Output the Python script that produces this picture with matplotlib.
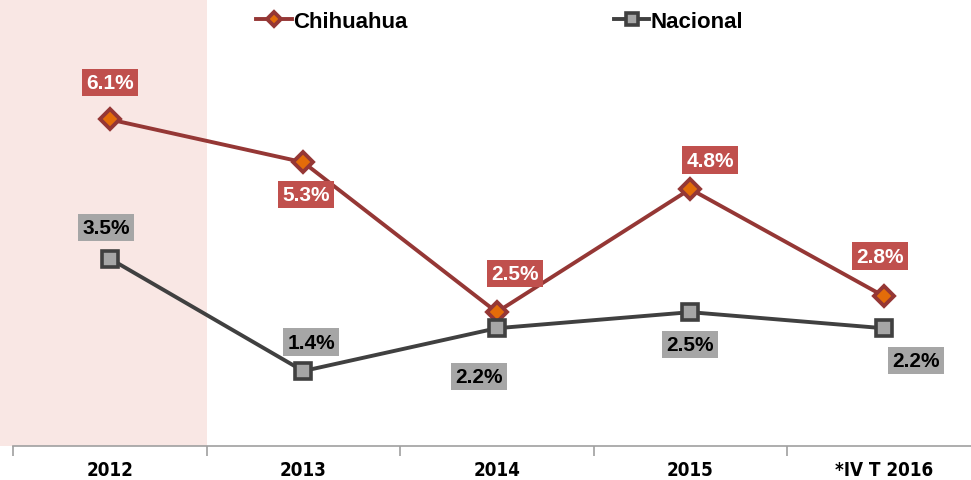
import matplotlib.pyplot as plt
from matplotlib.ticker import FixedLocator

# data
years = ["2012", "2013", "2014", "2015", "*IV T 2016"]
chihuahua = [6.1, 5.3, 2.5, 4.8, 2.8]
nacional = [3.5, 1.4, 2.2, 2.5, 2.2]

# label offsets in pixels (dx, dy) from each marker
chi_offsets = [(0, 37), (3, -32), (18, 39), (20, 29), (-4, 40)]
nac_offsets = [(-4, 31), (8, 29), (-18, -48), (0, -32), (32, -32)]

red_line = "#953735"
red_box = "#C0504D"
grey_line = "#404040"
grey_box = "#A6A6A6"

plt.rcParams['font.family'] = ['Liberation Sans', 'DejaVu Sans']

fig = plt.figure(figsize=(9.71, 4.81), dpi=100)
ax = fig.add_axes([13 / 971, 1 - 447 / 481, 967.5 / 971, 447 / 481])

x = list(range(len(years)))

# shaded first category, reaching the left edge of the figure
ax.axvspan(-0.57, 0.5, color="#F9E7E4", zorder=0, clip_on=False, lw=0)

ax.plot(x, chihuahua, color=red_line, lw=2.8, marker="D", markersize=10,
        markerfacecolor="#E36C09", markeredgecolor=red_line, markeredgewidth=2.8,
        label="Chihuahua", zorder=3)
ax.plot(x, nacional, color=grey_line, lw=2.8, marker="s", markersize=12,
        markerfacecolor=grey_box, markeredgecolor=grey_line, markeredgewidth=2.6,
        label="Nacional", zorder=3)

for xi, v, off in zip(x, chihuahua, chi_offsets):
    ax.annotate(f"{v:.1f}%", (xi, v), xytext=off, textcoords="offset pixels",
                ha="center", va="center", fontsize=15, fontweight="bold", color="white",
                bbox=dict(boxstyle="square,pad=0.2", fc=red_box, ec="none"), zorder=4)
for xi, v, off in zip(x, nacional, nac_offsets):
    ax.annotate(f"{v:.1f}%", (xi, v), xytext=off, textcoords="offset pixels",
                ha="center", va="center", fontsize=15, fontweight="bold", color="black",
                bbox=dict(boxstyle="square,pad=0.2", fc=grey_box, ec="none"), zorder=4)

ax.set_xlim(-0.5, 4.5)
ax.set_ylim(0, 8.35)
ax.set_yticks([])
for s in ["top", "right", "left"]:
    ax.spines[s].set_visible(False)
ax.spines["bottom"].set_color("#A0A0A0")
ax.spines["bottom"].set_linewidth(1.2)

ax.set_xticks(x)
ax.set_xticklabels(years, family=['Liberation Sans Narrow', 'DejaVu Sans'],
                   fontweight="bold", fontsize=13.5, fontstretch="condensed")
ax.tick_params(axis="x", which="major", length=0, pad=10)
ax.xaxis.set_minor_locator(FixedLocator([-0.5, 0.5, 1.5, 2.5, 3.5, 4.5]))
ax.tick_params(axis="x", which="minor", length=7, color="#A0A0A0", width=1.2)

leg = ax.legend(loc="upper center", bbox_to_anchor=(0.503, 1.018), ncol=2,
                frameon=False, columnspacing=9.3, handlelength=1.6, handletextpad=0.05,
                markerscale=0.75, prop=dict(weight="bold", size=16))

fig.savefig("out.png", dpi=100)
